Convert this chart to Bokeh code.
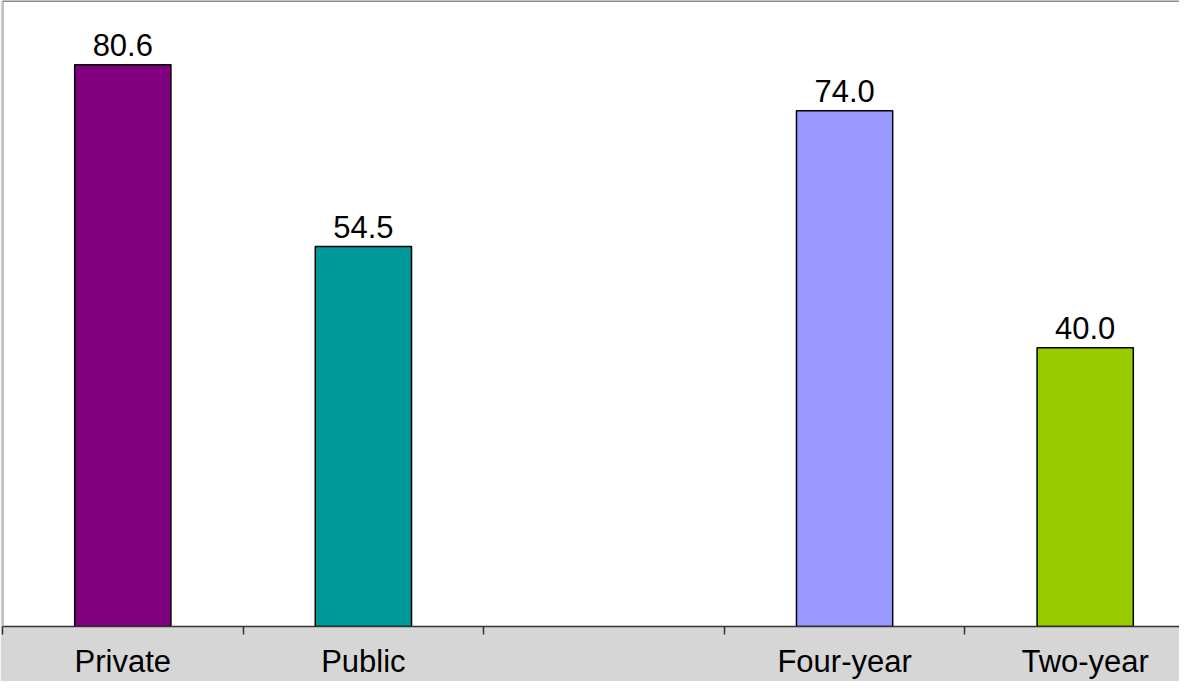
from bokeh.plotting import figure
from bokeh.models import ColumnDataSource, Range1d, FixedTicker, Span
from bokeh.core.properties import value
from bokeh.embed import file_html
from bokeh.resources import INLINE

# ---- data ----
categories = ["Private", "Public", "", "Four-year", "Two-year"]
values = [80.6, 54.5, None, 74.0, 40.0]
colors = ["#800080", "#009999", None, "#9999FF", "#99CC00"]
y_max = 89.8

FONT = "Liberation Sans"

xs, tops, cols, labels = [], [], [], []
for i, (c, v, col) in enumerate(zip(categories, values, colors)):
    if v is None:
        continue
    xs.append(i + 0.5)
    tops.append(v)
    cols.append(col)
    labels.append(f"{v:.1f}")

src = ColumnDataSource(dict(x=xs, top=tops, color=cols, label=labels))

n = len(categories)
p = figure(
    width=1179, height=681,
    x_range=Range1d(0, 4.892), y_range=Range1d(0, y_max),
    output_backend="svg", toolbar_location=None,
    y_axis_location=None,
    min_border_left=2, min_border_right=0, min_border_top=0, min_border_bottom=54,
)
p.border_fill_color = "#d6d6d6"
p.background_fill_color = "white"
p.outline_line_color = None
p.xgrid.visible = False
p.ygrid.visible = False

p.vbar(x="x", top="top", bottom=0, width=0.4, source=src,
       fill_color="color", line_color="black", line_width=1.5)

p.text(x="x", y="top", text="label", source=src,
       text_align="center", text_baseline="alphabetic", y_offset=-20,
       text_font=value(FONT), text_font_size="31px", text_color="black")

# left and top borders of plot area
p.add_layout(Span(location=0, dimension="height", line_color="#8a8a8a", line_width=2))
p.add_layout(Span(location=y_max, dimension="width", line_color="#8a8a8a", line_width=3))

ax = p.xaxis[0]
ax.ticker = FixedTicker(ticks=[i + 0.5 for i in range(n)],
                        minor_ticks=[float(i) for i in range(n)])
ax.major_label_overrides = {i + 0.5: c for i, c in enumerate(categories)}
ax.major_tick_in = 0
ax.major_tick_out = 0
ax.minor_tick_in = 0
ax.minor_tick_out = 8
ax.minor_tick_line_color = "#333333"
ax.minor_tick_line_width = 1.5
ax.axis_line_color = "#333333"
ax.axis_line_width = 1.5
ax.major_label_text_font = FONT
ax.major_label_text_font_size = "31px"
ax.major_label_text_color = "black"
ax.major_label_standoff = 9

open("out.html", "w").write(file_html(p, INLINE))
